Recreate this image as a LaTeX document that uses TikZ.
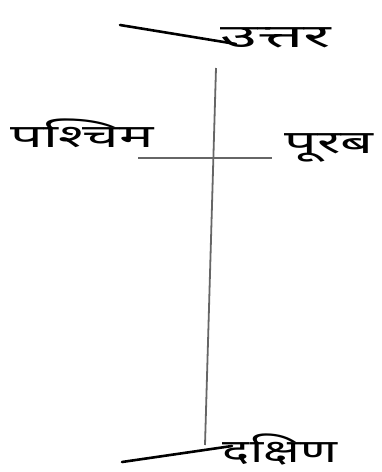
\documentclass[tikz,border=0pt]{standalone}
\usepackage{fontspec}
\newfontfamily\devfont[Script=Devanagari]{Noto Sans}
\tikzset{
  axisline/.style={draw=black!60, line width=1.8pt},
  stroke/.style={draw=black, line width=2.6pt, line cap=round},
  dirlabel/.style={font=\devfont\bfseries\fontsize{32}{36}\selectfont, inner sep=0pt, text=black}
}
\begin{document}
\begin{tikzpicture}[x=1pt,y=-1pt]
\useasboundingbox (0,0) rectangle (382,472);
% axes
\coordinate (ntop) at (216,68);
\coordinate (sbot) at (205,445);
\coordinate (wend) at (138,158);
\coordinate (eend) at (272,158);
\draw[axisline] (ntop) -- (sbot);
\draw[axisline] (wend) -- (eend);
% labels
\node[dirlabel] (north) at (276,38) {\scalebox{2.1}[1]{उत्तर}};
\node[dirlabel] (west) at (82,133) {\scalebox{1.8}[1]{पश्चिम}};
\node[dirlabel] (east) at (329,148) {\scalebox{1.8}[1]{पूरब}};
\node[dirlabel] (south) at (280,450) {\scalebox{1.6}[1]{दक्षिण}};
% flourishes
\coordinate (nf) at (120,25);
\coordinate (nt) at (236,44);
\coordinate (sf) at (122,462);
\coordinate (st) at (232,446);
\draw[stroke] (nf) -- (nt);
\draw[stroke] (sf) -- (st);
\end{tikzpicture}
\end{document}
